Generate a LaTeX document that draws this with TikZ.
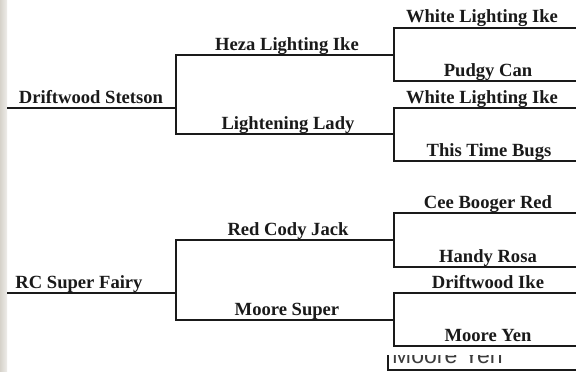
\documentclass[tikz,border=0pt]{standalone}
\usepackage{fontspec}
\setmainfont{Liberation Serif}
\newfontfamily\artsans{Liberation Sans}
\definecolor{ink}{HTML}{1A1A1A}
\definecolor{stripL}{HTML}{D6D2CA}
\definecolor{stripR}{HTML}{EEEDEA}
\begin{document}
\begin{tikzpicture}[x=1pt,y=-1pt,
  bline/.style={draw=ink,line width=2pt,line cap=rect},
  horsename/.style={anchor=base,inner sep=0pt,font=\bfseries\fontsize{18.6}{21}\selectfont,text=ink}]
\useasboundingbox (0,0) rectangle (576,372);
\fill[white] (0,0) rectangle (576,372);
\shade[left color=stripL,right color=stripR] (0,0) rectangle (7,372);
% junction coordinates
\coordinate (s0) at (8,108);
\coordinate (j1) at (176,108);
\coordinate (a1) at (176,55);
\coordinate (a2) at (176,134);
\coordinate (k1) at (394,55);
\coordinate (k2) at (394,134);
\coordinate (b1) at (394,28);  \coordinate (e1) at (576,28);
\coordinate (b2) at (394,81);  \coordinate (e2) at (576,81);
\coordinate (b3) at (394,108); \coordinate (e3) at (576,108);
\coordinate (b4) at (394,161); \coordinate (e4) at (576,161);
\coordinate (s1) at (8,293);
\coordinate (j2) at (176,293);
\coordinate (a3) at (176,240);
\coordinate (a4) at (176,320);
\coordinate (k3) at (394,240);
\coordinate (k4) at (394,320);
\coordinate (b5) at (394,213); \coordinate (e5) at (576,213);
\coordinate (b6) at (394,267); \coordinate (e6) at (576,267);
\coordinate (b7) at (394,293); \coordinate (e7) at (576,293);
\coordinate (b8) at (394,346); \coordinate (e8) at (576,346);
% lines
\draw[bline] (s0) -- (j1);
\draw[bline] (a1) -- (a2);
\draw[bline] (a1) -- (k1);
\draw[bline] (a2) -- (k2);
\draw[bline] (e1) -- (b1) -- (b2) -- (e2);
\draw[bline] (e3) -- (b3) -- (b4) -- (e4);
\draw[bline] (s1) -- (j2);
\draw[bline] (a3) -- (a4);
\draw[bline] (a3) -- (k3);
\draw[bline] (a4) -- (k4);
\draw[bline] (e5) -- (b5) -- (b6) -- (e6);
\draw[bline] (e7) -- (b7) -- (b8) -- (e8);
% names
\node[horsename] (n1) at (91,103) {Driftwood Stetson};
\node[horsename] (n2) at (287,50) {Heza Lighting Ike};
\node[horsename] (n3) at (288,129) {Lightening Lady};
\node[horsename] (n4) at (482,23) {White Lighting Ike};
\node[horsename] (n5) at (488,76) {Pudgy Can};
\node[horsename] (n6) at (482,103) {White Lighting Ike};
\node[horsename] (n7) at (489,156) {This Time Bugs};
\node[horsename] (n8) at (79,288) {RC Super Fairy};
\node[horsename] (n9) at (288,235) {Red Cody Jack};
\node[horsename] (n10) at (287,315) {Moore Super};
\node[horsename] (n11) at (488,208) {Cee Booger Red};
\node[horsename] (n12) at (488,262) {Handy Rosa};
\node[horsename] (n13) at (488,288) {Driftwood Ike};
\node[horsename] (n14) at (488,341) {Moore Yen};
% cropped artefact at the bottom
\begin{scope}
\clip (386,355) rectangle (576,372);
\node[anchor=base west,inner sep=0pt,font=\artsans\fontsize{23}{26}\selectfont,text=ink!85] (art) at (392,363) {Moore Yen};
\end{scope}
\coordinate (c1) at (388,355);
\coordinate (c2) at (388,370);
\coordinate (c3) at (576,370);
\draw[draw=ink,line width=2.4pt] (c1) -- (c2) -- (c3);
\end{tikzpicture}
\end{document}
